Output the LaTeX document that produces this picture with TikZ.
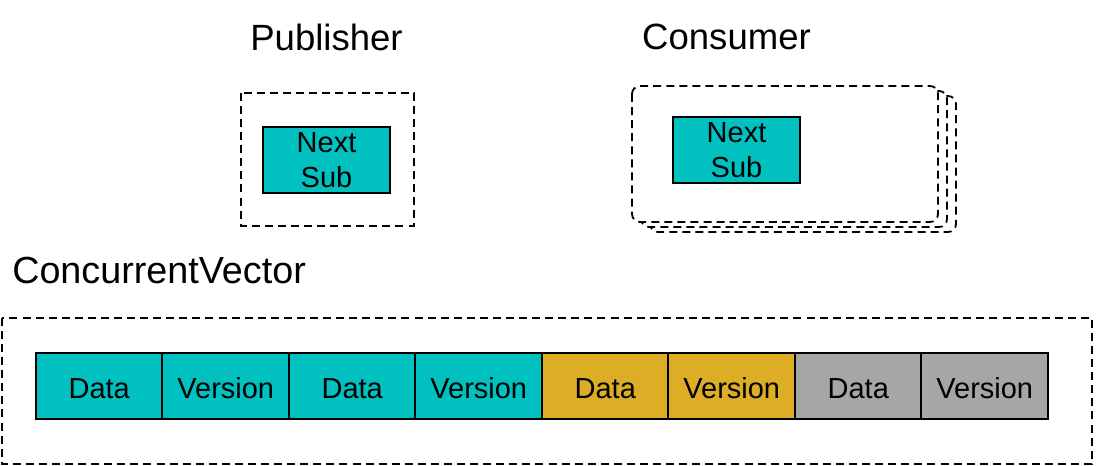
\documentclass[tikz,border=0pt]{standalone}
\usepackage{fontspec}
\setmainfont{Liberation Sans}
\usepackage{tikz}
\usetikzlibrary{calc}

\definecolor{cellcyan}{RGB}{0,192,192}
\definecolor{cellgold}{RGB}{221,173,38}
\definecolor{cellgray}{RGB}{166,166,166}

\tikzset{
  frame/.style={draw=black, line width=1.35pt, dash pattern=on 6pt off 3.8pt},
  subbox/.style={draw=black, line width=1.5pt, fill=cellcyan, minimum width=95.25pt, minimum height=49.5pt, inner sep=0pt, align=center, font=\fontsize{21.75}{26.25}\selectfont},
  cell/.style={draw=black, line width=1.5pt, minimum width=94.9pt, minimum height=49.5pt, inner sep=0pt, text height=18.6pt, text depth=0pt, font=\fontsize{21.75}{26}\selectfont},
  title/.style={inner sep=0pt, font=\fontsize{27.4}{32}\selectfont}
}

\begin{document}
\begin{tikzpicture}[x=0.75pt,y=0.75pt,yscale=-1,xscale=1]
\useasboundingbox (0,0) rectangle (1096,466);
%Publisher
\node [title] (pubtitle) at (326.5,37) {Publisher};
\draw [frame] (241,93) rectangle (414,226) ;
\node [subbox] (pubsub) at (326.5,160) {Next\\Sub};
%Consumer (stack of three frames)
\node [title] (contitle) at (726.5,37) {Consumer};
\draw [frame, fill=white, rounded corners=6pt] (650,96) rectangle (956,232) ;
\draw [frame, fill=white, rounded corners=6pt] (641,91) rectangle (947,227) ;
\draw [frame, fill=white, rounded corners=6pt] (632,86) rectangle (938,222) ;
\node [subbox] (consub) at (736.5,150) {Next\\Sub};
%ConcurrentVector
\node [title, anchor=west, font=\fontsize{28.3}{33}\selectfont] (vectitle) at (12,271) {ConcurrentVector};
\draw [frame] (2,318) rectangle (1092,464) ;
\node [cell, fill=cellcyan] (data1) at (99.25,386) {Data};
\node [cell, fill=cellcyan] (ver1) at (225.75,386) {Version};
\node [cell, fill=cellcyan] (data2) at (352.25,386) {Data};
\node [cell, fill=cellcyan] (ver2) at (478.75,386) {Version};
\node [cell, fill=cellgold] (data3) at (605.25,386) {Data};
\node [cell, fill=cellgold] (ver3) at (731.75,386) {Version};
\node [cell, fill=cellgray] (data4) at (858.25,386) {Data};
\node [cell, fill=cellgray] (ver4) at (984.75,386) {Version};
\end{tikzpicture}
\end{document}
